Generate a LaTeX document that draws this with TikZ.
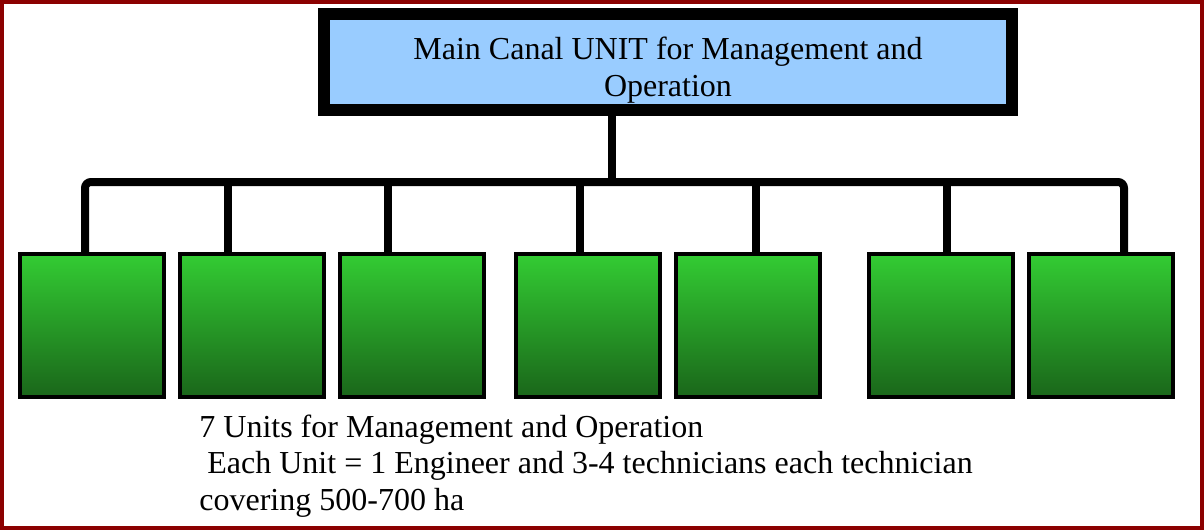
\documentclass[tikz,border=0pt]{standalone}
\usepackage{fontspec}
\setmainfont{Liberation Serif}
\usepackage{xcolor}
\usepackage{tikz}
\usetikzlibrary{positioning,calc}
\definecolor{CanalBlue}{HTML}{99CCFF}
\definecolor{UnitTop}{HTML}{33CC33}
\definecolor{UnitBot}{HTML}{1A661A}
\definecolor{FrameRed}{HTML}{8B0000}
\tikzset{
  canalbox/.style={fill=CanalBlue,minimum width=344pt,minimum height=48pt,inner sep=0pt},
  canaledge/.style={draw=black,line width=6pt},
  canaltext/.style={align=center,inner sep=0pt,font=\fontsize{16pt}{18.5pt}\selectfont},
  unitbox/.style={draw=black,line width=2pt,top color=UnitTop,middle color=UnitTop!78!UnitBot,bottom color=UnitBot,minimum width=72pt,minimum height=71.5pt,inner sep=0pt},
  link/.style={draw=black,line width=4pt},
  notetext/.style={align=left,inner sep=0pt,font=\fontsize{16pt}{18.25pt}\selectfont}
}

\begin{document}
\begin{tikzpicture}[x=0.5pt,y=-0.5pt]
\useasboundingbox (0,0) rectangle (1204,530);
% outer frame
\draw[draw=FrameRed,line width=2pt] (2,2) rectangle (1202,528);

% top unit (base anchor sits on the last line), edge drawn over the text
\node[canalbox] (canal) at (668,62) {};
\node[canaltext,anchor=base] (canaltitle) at (668,96) {Main Canal UNIT for Management and\\Operation};
\draw[canaledge] (canal.north west) rectangle (canal.south east);

% the seven units
\node[unitbox] (u1) at (92,325.5) {};
\node[unitbox] (u2) at (252,325.5) {};
\node[unitbox] (u3) at (412,325.5) {};
\node[unitbox] (u4) at (588,325.5) {};
\node[unitbox] (u5) at (748,325.5) {};
\node[unitbox] (u6) at (940.5,325.5) {};
\node[unitbox] (u7) at (1100.5,325.5) {};

% branch points on the bar
\coordinate (hub) at (612,182);
\coordinate (j1) at (85,182);
\coordinate (j2) at (228,182);
\coordinate (j3) at (388,182);
\coordinate (j4) at (580,182);
\coordinate (j5) at (756,182);
\coordinate (j6) at (947,182);
\coordinate (j7) at (1124,182);

\draw[link] (hub |- canal.south) -- (hub);
\draw[link,rounded corners=3] (j1 |- u1.north) -- (j1) -- (j7) -- (j7 |- u7.north);
\draw[link] (j2) -- (j2 |- u2.north);
\draw[link] (j3) -- (j3 |- u3.north);
\draw[link] (j4) -- (j4 |- u4.north);
\draw[link] (j5) -- (j5 |- u5.north);
\draw[link] (j6) -- (j6 |- u6.north);

% note under the units
\node[notetext,anchor=base west] (note) at (199,510) {7 Units for Management and Operation\\\ Each Unit = 1 Engineer and 3-4 technicians each technician\\covering 500-700 ha};
\end{tikzpicture}
\end{document}
